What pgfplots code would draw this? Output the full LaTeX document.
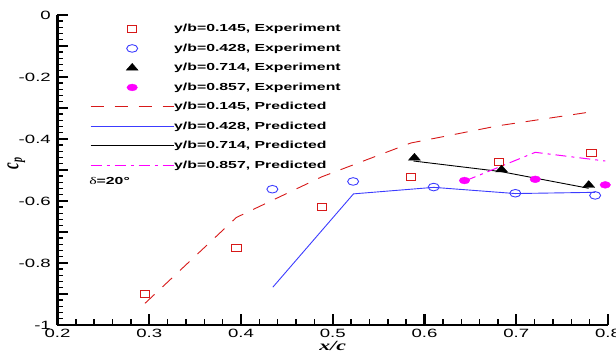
\documentclass[border=0pt]{standalone}
\usepackage{fontspec}
\setmainfont{Liberation Sans}
\newfontfamily\serifbi{Liberation Serif}
\usepackage{graphicx}
\usepackage{pgfplots}
\pgfplotsset{compat=1.18}
\definecolor{cred}{RGB}{215,25,25}
\definecolor{cblue}{RGB}{60,60,255}
\definecolor{cmag}{RGB}{255,0,255}
\newcommand\sx[1]{\scalebox{1.55}[1]{#1}}
\newcommand\lgd[1]{\scalebox{1.55}[1]{\bfseries #1}}
\begin{document}
\begin{tikzpicture}
\begin{axis}[name=a, scale only axis, width=550.5pt, height=310pt,
  xmin=0.2, xmax=0.8, ymin=-1, ymax=0,
  axis lines*=left,
  axis line style={line width=2.5pt},
  tick align=inside,
  major tick length=11pt, minor tick length=6pt,
  tick style={line width=1.4pt, black},
  major tick style={line width=2.2pt},
  xtick={0.2,0.3,0.4,0.5,0.6,0.7,0.8},
  xticklabels={\sx{0.2},\sx{0.3},\sx{0.4},\sx{0.5},\sx{0.6},\sx{0.7},\sx{0.8}},
  minor x tick num=4,
  ytick={-1,-0.9,-0.8,-0.7,-0.6,-0.5,-0.4,-0.3,-0.2,-0.1,0},
  yticklabels={\sx{-1},,\sx{-0.8},,\sx{-0.6},,\sx{-0.4},,\sx{-0.2},,\sx{0}},
  minor y tick num=4,
  xticklabel style={inner sep=0pt, anchor=north, yshift=-4pt, font=\fontsize{12}{12}\selectfont},
  yticklabel style={inner sep=0pt, anchor=east, xshift=-6.5pt, font=\fontsize{12}{12}\selectfont},
  xlabel={\scalebox{1.55}[1]{\fontsize{14}{14}\selectfont\serifbi\bfseries\itshape x/c}},
  xlabel style={at={(axis description cs:0.5,0)}, anchor=north, inner sep=0pt, yshift=-16pt},
  ylabel={\scalebox{1}[1.55]{\fontsize{15}{15}\selectfont\serifbi\bfseries\itshape c\raisebox{-0.35ex}{\fontsize{10}{10}\selectfont p}}},
  ylabel style={at={(axis description cs:0,0.52)}, anchor=south, inner sep=0pt, xshift=-0pt, yshift=32pt},
  clip=false,
  legend cell align=left,
  legend style={at={(axis description cs:0.059,1)}, anchor=north west, yshift=-9pt,
    draw=none, fill=none, inner sep=0pt, row sep=10pt, column sep=0pt,
    nodes={inner sep=0pt, text height=7.5pt, text depth=2pt, font=\fontsize{10.2}{12}\selectfont}},
  legend image code/.code={\draw[mark repeat=2,mark phase=2,#1] plot coordinates {(0pt,0pt)(41.5pt,0pt)(83pt,0pt)};},
]
\addplot[only marks, mark=square, cred, line width=0.9pt, mark size=3.4pt, mark options={xscale=1.4}]
 coordinates {(0.2954,-0.901)(0.395,-0.751)(0.488,-0.618)(0.585,-0.522)(0.681,-0.474)(0.782,-0.446)};
\addlegendentry{\lgd{y/b=0.145, Experiment}}
\addplot[only marks, mark=o, cblue, line width=0.9pt, mark size=3.8pt, mark options={xscale=1.45}]
 coordinates {(0.4342,-0.562)(0.5222,-0.537)(0.610,-0.555)(0.699,-0.575)(0.786,-0.582)};
\addlegendentry{\lgd{y/b=0.428, Experiment}}
\addplot[only marks, mark=triangle*, black, mark size=4.6pt, mark options={xscale=1.5}]
 coordinates {(0.589,-0.461)(0.684,-0.499)(0.779,-0.549)};
\addlegendentry{\lgd{y/b=0.714, Experiment}}
\addplot[only marks, mark=*, cmag, mark size=3.4pt, mark options={xscale=1.55}]
 coordinates {(0.6436,-0.534)(0.7207,-0.530)(0.797,-0.548)};
\addlegendentry{\lgd{y/b=0.857, Experiment}}
\addplot[no marks, cred, line width=0.9pt, dash pattern=on 13pt off 11pt]
 coordinates {(0.2954,-0.930)(0.395,-0.653)(0.488,-0.522)(0.585,-0.413)(0.681,-0.357)(0.776,-0.315)};
\addlegendentry{\lgd{y/b=0.145, Predicted}}
\addplot[no marks, cblue, line width=0.9pt]
 coordinates {(0.4347,-0.878)(0.5226,-0.577)(0.610,-0.556)(0.699,-0.576)(0.786,-0.572)};
\addlegendentry{\lgd{y/b=0.428, Predicted}}
\addplot[no marks, black, line width=0.9pt]
 coordinates {(0.588,-0.471)(0.683,-0.505)(0.779,-0.559)};
\addlegendentry{\lgd{y/b=0.714, Predicted}}
\addplot[no marks, cmag, line width=1pt, dash pattern=on 11pt off 5pt on 3pt off 5pt]
 coordinates {(0.6444,-0.535)(0.7207,-0.443)(0.797,-0.471)};
\addlegendentry{\lgd{y/b=0.857, Predicted}}
\node[anchor=west, inner sep=0pt, font=\fontsize{10.2}{12}\selectfont] at (axis cs:0.2344,-0.535)
 {\scalebox{1.55}[1]{{\serifbi δ}\textbf{=20°}}};
\end{axis}
\pgfresetboundingbox
\path[use as bounding box] ([xshift=-57.5pt,yshift=-28pt]a.south west) rectangle ([xshift=8pt,yshift=15pt]a.north east);
\end{tikzpicture}
\end{document}
